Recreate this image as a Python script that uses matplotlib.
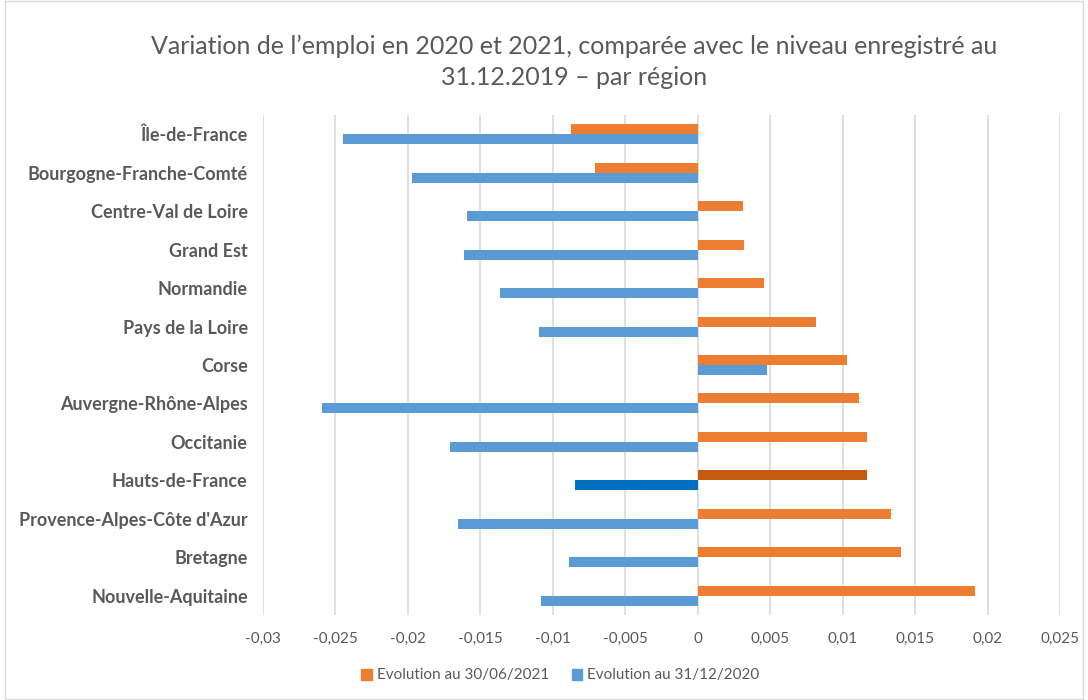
import matplotlib.pyplot as plt
from matplotlib.patches import Rectangle, Patch
from matplotlib.ticker import FuncFormatter

# data
regions = ['Île-de-France', 'Bourgogne-Franche-Comté', 'Centre-Val de Loire', 'Grand Est',
           'Normandie', 'Pays de la Loire', 'Corse', 'Auvergne-Rhône-Alpes', 'Occitanie',
           'Hauts-de-France', "Provence-Alpes-Côte d'Azur", 'Bretagne', 'Nouvelle-Aquitaine']
evol_2021 = [-0.00877, -0.00708, 0.00309, 0.00322, 0.00454, 0.00815, 0.01032, 0.01111,
             0.01166, 0.01169, 0.01335, 0.01404, 0.01915]
evol_2020 = [-0.02449, -0.01969, -0.01593, -0.01615, -0.01364, -0.01092, 0.00475, -0.02592,
             -0.01712, -0.0085, -0.01656, -0.00889, -0.01083]
highlight = 'Hauts-de-France'
xticks = [-0.03, -0.025, -0.02, -0.015, -0.01, -0.005, 0, 0.005, 0.01, 0.015, 0.02, 0.025]

orange, blue = '#ED7D31', '#5B9BD5'
orange_hi, blue_hi = '#C55A11', '#0070C0'
txt = '#595959'

plt.rcParams['font.family'] = ['Lato', 'DejaVu Sans']

fig = plt.figure(figsize=(10.88, 7.0), dpi=100)
ax = fig.add_axes([0.2417, 0.1214, 0.7326, 0.7143])

h = 0.26
for i, r in enumerate(regions):
    co = orange_hi if r == highlight else orange
    cb = blue_hi if r == highlight else blue
    ax.barh(i - h / 2, evol_2021[i], height=h, color=co, zorder=3)
    ax.barh(i + h / 2, evol_2020[i], height=h, color=cb, zorder=3)

ax.set_ylim(len(regions) - 0.5, -0.5)
ax.set_yticks(range(len(regions)))
ax.set_yticklabels(regions, fontsize=13, fontweight='bold', color=txt)
ax.set_xlim(-0.03, 0.025)
ax.set_xticks(xticks)
ax.xaxis.set_major_formatter(FuncFormatter(lambda v, p: ('%g' % round(v, 4)).replace('.', ',')))
ax.tick_params(axis='x', labelsize=11, colors=txt, length=0, pad=12)
ax.tick_params(axis='y', length=0, pad=11)
ax.grid(axis='x', color='#d9d9d9', linewidth=1.2, zorder=0)
for s in ax.spines.values():
    s.set_visible(False)

fig.text(0.528, 0.912, "Variation de l’emploi en 2020 et 2021, comparée avec le niveau enregistré au\n31.12.2019 – par région",
         ha='center', va='center', fontsize=18, color=txt, linespacing=1.4)

handles = [Patch(color=orange, label='Evolution au 30/06/2021'),
           Patch(color=blue, label='Evolution au 31/12/2020')]
fig.legend(handles=handles, loc='center', bbox_to_anchor=(0.515, 0.035), ncol=2, frameon=False,
           fontsize=11, labelcolor=txt, handlelength=0.7, handleheight=0.7, handletextpad=0.3,
           columnspacing=1.5)

fig.patches.append(Rectangle((0.005, 0.002), 0.99, 0.996, transform=fig.transFigure,
                             fill=False, edgecolor='#d9d9d9', linewidth=1))

fig.savefig('out.png', dpi=100)
